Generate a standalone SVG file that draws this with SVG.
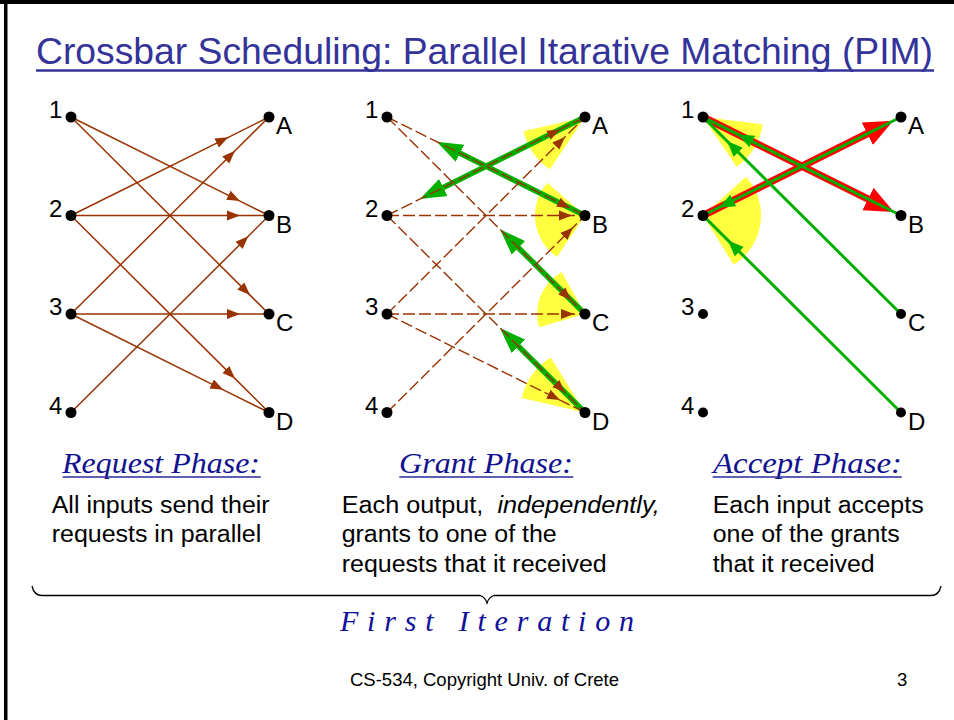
<svg xmlns="http://www.w3.org/2000/svg" width="954" height="720" viewBox="0 0 954 720">
<defs>
<style>
svg{}
.lbl{font-family:"Liberation Sans",Arial,sans-serif;font-size:24px;fill:#000}
.dot{fill:#000}
.req{stroke:#993300;stroke-width:1.5;fill:none;marker-mid:url(#ab)}
.reqd{stroke:#993300;stroke-width:1.4;fill:none;stroke-dasharray:12 4;marker-mid:url(#ab)}
.g2{stroke:#00b000;stroke-width:5.5;fill:none;stroke-linecap:round;marker-end:url(#ag)}
.g3{stroke:#00b000;stroke-width:3;fill:none;stroke-linecap:round;marker-mid:url(#ags)}
.red{stroke:#ff0000;stroke-width:7.5;fill:none;stroke-linecap:round;marker-end:url(#ar)}
.wedge{fill:#ffff40}
.head{font-family:"Liberation Serif","Times New Roman",serif;font-style:italic;font-size:30px;fill:#121290}
.ul{stroke:#2a2a9a;stroke-width:1.6}
.body{font-family:"Liberation Sans",Arial,sans-serif;font-size:23px;fill:#000}
</style>
<marker id="ab" viewBox="0 -6 13 12" markerWidth="13" markerHeight="12" refX="13" refY="0" orient="auto" markerUnits="userSpaceOnUse"><path d="M0,-5 L13,0 L0,5 Z" fill="#993300"/></marker>
<marker id="ag" viewBox="0 -10 26 20" markerWidth="26" markerHeight="20" refX="0" refY="0" orient="auto" markerUnits="userSpaceOnUse"><path d="M0,-9.5 L26,0 L0,9.5 Z" fill="#00b000"/></marker>
<marker id="ar" viewBox="0 -13 29 26" markerWidth="29" markerHeight="26" refX="0" refY="0" orient="auto" markerUnits="userSpaceOnUse"><path d="M0,-12.5 L29,0 L0,12.5 Z" fill="#ff0000"/></marker>
<marker id="ags" viewBox="0 -7 16 14" markerWidth="16" markerHeight="14" refX="16" refY="0" orient="auto" markerUnits="userSpaceOnUse"><path d="M0,-6.5 L16,0 L0,6.5 Z" fill="#00b000"/></marker>
</defs>

<rect width="954" height="720" fill="#fff"/>
<g id="frame">
<rect x="0" y="0" width="954" height="4" fill="#000"/>
<rect x="4" y="0" width="3.5" height="720" fill="#000"/>
</g>

<g id="title">
<text x="36" y="64" font-family="'Liberation Sans',Arial,sans-serif" font-size="37" fill="#333399" textLength="897" lengthAdjust="spacingAndGlyphs">Crossbar Scheduling: Parallel Itarative Matching (PIM)</text>
<line x1="36" y1="70.5" x2="934" y2="70.5" stroke="#333399" stroke-width="2.5"/>
</g>

<!-- Panel 1: Request -->
<g id="p1-connectors">
<path class="req" d="M71,117 L240,201.1 L269,215.5"/>
<path class="req" d="M71,117 L250,295.1 L269,314"/>
<path class="req" d="M71,215.5 L228.3,137.3 L269,117"/>
<path class="req" d="M71,215.5 L240,215.5 L269,215.5"/>
<path class="req" d="M71,215.5 L235,378.6 L269,412.5"/>
<path class="req" d="M71,314 L235,150.8 L269,117"/>
<path class="req" d="M71,314 L240,314 L269,314"/>
<path class="req" d="M71,314 L223.3,389.8 L269,412.5"/>
<path class="req" d="M71,412.5 L248.3,236.2 L269,215.5"/>
</g>
<g font-family="'Liberation Sans',Arial,sans-serif" font-size="24" fill="#000">
<g id="p1-in1"><circle class="dot" cx="71" cy="117" r="5.5"/><text class="lbl" font-size="24" x="49" y="118">1</text></g>
<g id="p1-in2"><circle class="dot" cx="71" cy="215.5" r="5.5"/><text class="lbl" font-size="24" x="49" y="216.5">2</text></g>
<g id="p1-in3"><circle class="dot" cx="71" cy="314" r="5.5"/><text class="lbl" font-size="24" x="49" y="315">3</text></g>
<g id="p1-in4"><circle class="dot" cx="71" cy="412.5" r="5.5"/><text class="lbl" font-size="24" x="49" y="414">4</text></g>
<g id="p1-outA"><circle class="dot" cx="269" cy="117" r="5.5"/><text class="lbl" font-size="24" x="276" y="134">A</text></g>
<g id="p1-outB"><circle class="dot" cx="269" cy="215.5" r="5.5"/><text class="lbl" font-size="24" x="276" y="232.5">B</text></g>
<g id="p1-outC"><circle class="dot" cx="269" cy="314" r="5.5"/><text class="lbl" font-size="24" x="276" y="331">C</text></g>
<g id="p1-outD"><circle class="dot" cx="269" cy="412.5" r="5.5"/><text class="lbl" font-size="24" x="276" y="429.5">D</text></g>
</g>

<!-- Panel 2: Grant -->
<g id="p2-wedges">
<path class="wedge" d="M585,117 L549.8,169.2 A63,63 0 0,1 523.6,131.2 Z"/>
<path class="wedge" d="M585,215.5 L557,257 A50,50 0 0,1 547.3,182.7 Z"/>
<path class="wedge" d="M585,314 L538.9,327.2 A48,48 0 0,1 561.7,272 Z"/>
<path class="wedge" d="M585,412.5 L521.7,397.9 A65,65 0 0,1 550.6,357.4 Z"/>
</g>
<g id="p2-connectors">
<path class="g2" d="M585,117 L443.3,187.5"/>
<path class="g2" d="M585,215.5 L460,153.3"/>
<path class="g2" d="M585,314 L518.4,247.7"/>
<path class="g2" d="M585,412.5 L518.4,346.3"/>
<path class="reqd" d="M387,117 L570,208 L585,215.5"/>
<path class="reqd" d="M387,117 L571,300.1 L585,314"/>
<path class="reqd" d="M387,215.5 L560,129.4 L585,117"/>
<path class="reqd" d="M387,215.5 L572,215.5 L585,215.5"/>
<path class="reqd" d="M387,215.5 L565,392.6 L585,412.5"/>
<path class="reqd" d="M387,314 L565,136.9 L585,117"/>
<path class="reqd" d="M387,314 L574,314 L585,314"/>
<path class="reqd" d="M387,314 L560,400.1 L585,412.5"/>
<path class="reqd" d="M387,412.5 L573,227.4 L585,215.5"/>
</g>
<g font-family="'Liberation Sans',Arial,sans-serif" font-size="24" fill="#000">
<g id="p2-in1"><circle class="dot" cx="387" cy="117" r="5.5"/><text class="lbl" font-size="24" x="365" y="118">1</text></g>
<g id="p2-in2"><circle class="dot" cx="387" cy="215.5" r="5.5"/><text class="lbl" font-size="24" x="365" y="216.5">2</text></g>
<g id="p2-in3"><circle class="dot" cx="387" cy="314" r="5.5"/><text class="lbl" font-size="24" x="365" y="315">3</text></g>
<g id="p2-in4"><circle class="dot" cx="387" cy="412.5" r="5.5"/><text class="lbl" font-size="24" x="365" y="414">4</text></g>
<g id="p2-outA"><circle class="dot" cx="585" cy="117" r="5.5"/><text class="lbl" font-size="24" x="592" y="134">A</text></g>
<g id="p2-outB"><circle class="dot" cx="585" cy="215.5" r="5.5"/><text class="lbl" font-size="24" x="592" y="232.5">B</text></g>
<g id="p2-outC"><circle class="dot" cx="585" cy="314" r="5.5"/><text class="lbl" font-size="24" x="592" y="331">C</text></g>
<g id="p2-outD"><circle class="dot" cx="585" cy="412.5" r="5.5"/><text class="lbl" font-size="24" x="592" y="429.5">D</text></g>
</g>

<!-- Panel 3: Accept -->
<g id="p3-wedges">
<path class="wedge" d="M703,117 L762.6,124.3 A60,60 0 0,1 736.6,166.7 Z"/>
<path class="wedge" d="M703,215.5 L746.1,176.7 A58,58 0 0,1 733.7,264.7 Z"/>
</g>
<g id="p3-connectors">
<path class="red" d="M703,117 L868,199"/>
<path class="red" d="M703,215.5 L867.3,133.7"/>
<path class="g3" d="M901,215.5 L738,134.4 L703,117"/>
<path class="g3" d="M901,117 L719,207.5 L703,215.5"/>
<path class="g3" d="M901,314 L727,141 L703,117"/>
<path class="g3" d="M901,412.5 L728,240.4 L703,215.5"/>
</g>
<g font-family="'Liberation Sans',Arial,sans-serif" font-size="24" fill="#000">
<g id="p3-in1"><circle class="dot" cx="703" cy="117" r="5.5"/><text class="lbl" font-size="24" x="681" y="118">1</text></g>
<g id="p3-in2"><circle class="dot" cx="703" cy="215.5" r="5.5"/><text class="lbl" font-size="24" x="681" y="216.5">2</text></g>
<g id="p3-in3"><circle class="dot" cx="703" cy="314" r="5"/><text class="lbl" font-size="24" x="681" y="315">3</text></g>
<g id="p3-in4"><circle class="dot" cx="703" cy="412.5" r="5"/><text class="lbl" font-size="24" x="681" y="414">4</text></g>
<g id="p3-outA"><circle class="dot" cx="901" cy="117" r="5.5"/><text class="lbl" font-size="24" x="908" y="134">A</text></g>
<g id="p3-outB"><circle class="dot" cx="901" cy="215.5" r="5.5"/><text class="lbl" font-size="24" x="908" y="232.5">B</text></g>
<g id="p3-outC"><circle class="dot" cx="901" cy="314" r="5"/><text class="lbl" font-size="24" x="908" y="331">C</text></g>
<g id="p3-outD"><circle class="dot" cx="901" cy="412.5" r="5"/><text class="lbl" font-size="24" x="908" y="429.5">D</text></g>
</g>

<!-- Captions -->
<g id="cap-request">
<text class="head" x="62" y="473.3" textLength="198" lengthAdjust="spacingAndGlyphs">Request Phase:</text>
<line class="ul" x1="62.7" y1="477" x2="260.7" y2="477"/>
<text class="body" x="51.7" y="512.7" textLength="218" lengthAdjust="spacingAndGlyphs">All inputs send their</text>
<text class="body" x="51.7" y="541.7" textLength="209.5" lengthAdjust="spacingAndGlyphs">requests in parallel</text>
</g>
<g id="cap-grant">
<text class="head" x="399" y="473.3" textLength="174" lengthAdjust="spacingAndGlyphs">Grant Phase:</text>
<line class="ul" x1="399.3" y1="477" x2="573.3" y2="477"/>
<text class="body" x="341.7" y="512.7" style="white-space:pre" textLength="318" lengthAdjust="spacingAndGlyphs">Each output,  <tspan font-style="italic">independently,</tspan></text>
<text class="body" x="341.7" y="541.7" textLength="215" lengthAdjust="spacingAndGlyphs">grants to one of the</text>
<text class="body" x="341.7" y="571.7" textLength="265" lengthAdjust="spacingAndGlyphs">requests that it received</text>
</g>
<g id="cap-accept">
<text class="head" x="713" y="473.3" textLength="189" lengthAdjust="spacingAndGlyphs">Accept Phase:</text>
<line class="ul" x1="712.7" y1="477" x2="901.7" y2="477"/>
<text class="body" x="712.7" y="512.7" textLength="211" lengthAdjust="spacingAndGlyphs">Each input accepts</text>
<text class="body" x="712.7" y="541.7" textLength="187" lengthAdjust="spacingAndGlyphs">one of the grants</text>
<text class="body" x="712.7" y="571.7" textLength="162" lengthAdjust="spacingAndGlyphs">that it received</text>
</g>

<g id="brace">
<path d="M32,586 Q34,595.5 42,595.5 L480,595.5 Q485,597 487,603 Q489,597 494,595.5 L931,595.5 Q939,595.5 941,586" fill="none" stroke="#000" stroke-width="1.3"/>
<text x="340" y="630.7" font-family="'Liberation Serif','Times New Roman',serif" font-style="italic" font-size="30" fill="#10109a" textLength="294" lengthAdjust="spacing">First Iteration</text>
</g>

<g id="footer">
<text x="350" y="686" font-family="'Liberation Sans',Arial,sans-serif" font-size="18.5" fill="#000">CS-534, Copyright Univ. of Crete</text>
<text x="897" y="686" font-family="'Liberation Sans',Arial,sans-serif" font-size="18.5" fill="#000">3</text>
</g>
</svg>
